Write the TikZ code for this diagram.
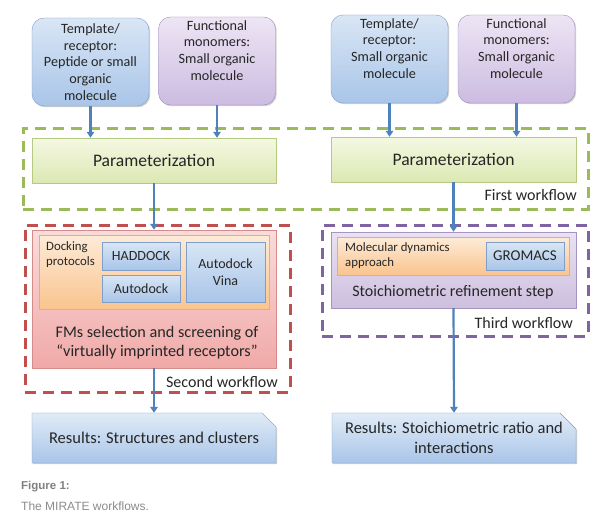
\documentclass[tikz,border=0pt]{standalone}
\usepackage{fontspec}
\setmainfont{Carlito}
\newfontfamily\capfont{Liberation Sans}
\usetikzlibrary{arrows.meta,shapes.misc,shadows}

\definecolor{tmplTop}{HTML}{D9E6F5}
\definecolor{tmplBot}{HTML}{A9C5E8}
\definecolor{tmplLine}{HTML}{7F9FC9}
\definecolor{monoTop}{HTML}{EDE5F4}
\definecolor{monoBot}{HTML}{CCBCE1}
\definecolor{monoLine}{HTML}{9E8CBC}
\definecolor{paramTop}{HTML}{F4F8E2}
\definecolor{paramBot}{HTML}{DCE8B3}
\definecolor{paramLine}{HTML}{B5C981}
\definecolor{screenTop}{HTML}{F9DCDB}
\definecolor{screenBot}{HTML}{F0A9A7}
\definecolor{screenLine}{HTML}{D48C8A}
\definecolor{dockTop}{HTML}{FDEBD8}
\definecolor{dockBot}{HTML}{FAC48E}
\definecolor{dockLine}{HTML}{F3AB63}
\definecolor{stoichTop}{HTML}{EAE2F1}
\definecolor{stoichBot}{HTML}{CDBFDF}
\definecolor{stoichLine}{HTML}{A794C1}
\definecolor{wfGreen}{HTML}{9BBB59}
\definecolor{wfRed}{HTML}{C0504D}
\definecolor{wfPurple}{HTML}{8064A2}
\definecolor{flowBlue}{HTML}{4F81BD}
\definecolor{inkText}{HTML}{262626}

\begin{document}
\begin{tikzpicture}[x=1pt,y=-1pt]

\tikzset{
  boxbase/.style={rectangle, inner sep=0pt, align=center, text=inkText,
    drop shadow={shadow xshift=1.2pt, shadow yshift=-1.2pt, opacity=.3, fill=black!60}},
  inputbox/.style={boxbase, rounded corners=12pt, minimum width=117pt, minimum height=88pt,
    font=\fontsize{14.2}{16.7}\selectfont},
  template/.style={inputbox, top color=tmplTop, bottom color=tmplBot, draw=tmplLine},
  monomer/.style={inputbox, top color=monoTop, bottom color=monoBot, draw=monoLine},
  param/.style={boxbase, top color=paramTop, bottom color=paramBot, draw=paramLine,
    minimum width=244pt, minimum height=45pt, font=\fontsize{17.6}{20}\selectfont},
  toolbox/.style={boxbase, top color=tmplTop, bottom color=tmplBot, draw=tmplLine,
    minimum width=78pt, font=\fontsize{14}{17}\selectfont},
  approach/.style={boxbase, top color=dockTop, bottom color=dockBot, draw=dockLine},
  result/.style={boxbase, chamfered rectangle, chamfered rectangle corners=north east,
    chamfered rectangle xsep=8pt, chamfered rectangle ysep=8pt,
    top color=tmplTop!80!white, bottom color=tmplBot, draw=tmplLine,
    minimum width=244pt, minimum height=50pt, font=\fontsize{16.5}{19.5}\selectfont},
  wfframe/.style={rectangle, dash pattern=on 11pt off 7pt, line width=3pt, inner sep=0pt},
  wflabel/.style={anchor=east, inner sep=0pt, text=inkText, font=\fontsize{16}{19}\selectfont},
  small/.style={anchor=north west, inner sep=0pt, align=left, text=inkText,
    font=\fontsize{12.8}{14.5}\selectfont},
  flow/.style={draw=flowBlue, line width=2.2pt, -{Triangle[width=7.5pt,length=6pt]}}
}

\useasboundingbox[fill=white] (0,0) rectangle (604,519);

% workflow frames
\node[wfframe, draw=wfGreen, minimum width=565pt, minimum height=81pt] (firstwf) at (305.5,168.5) {};
\node[wfframe, draw=wfRed, minimum width=265pt, minimum height=167pt] (secondwf) at (157.5,308.5) {};
\node[wfframe, draw=wfPurple, minimum width=266pt, minimum height=111pt] (thirdwf) at (455,280.5) {};

% inputs
\node[template] (tmplA) at (90.5,62) {Template/\\receptor:\\Peptide or small\\organic\\molecule};
\node[monomer] (monoA) at (217,61) {Functional\\monomers:\\Small organic\\molecule\\\strut};
\node[template] (tmplB) at (389.5,59) {Template/\\receptor:\\Small organic\\molecule\\\strut};
\node[monomer] (monoB) at (516.5,59) {Functional\\monomers:\\Small organic\\molecule\\\strut};

% first workflow
\node[param] (paramA) at (154,160.5) {Parameterization};
\node[param, minimum width=245pt] (paramB) at (453.5,159.5) {Parameterization};
\node[wflabel] (firstlbl) at (577,195) {First workflow};

% second workflow
\node[boxbase, top color=screenTop, bottom color=screenBot, draw=screenLine,
  minimum width=244pt, minimum height=138pt] (screen) at (154,299) {};
\node[approach, minimum width=230pt, minimum height=74pt] (dock) at (154,272) {};
\node[small] (docklbl) at (46,241.5) {Docking\\protocols};
\node[toolbox, minimum height=28pt] (haddock) at (141,256) {HADDOCK};
\node[toolbox, minimum height=27pt] (autodock) at (141,288.5) {Autodock};
\node[toolbox, minimum width=79pt, minimum height=60pt] (vina) at (225.5,272) {Autodock\\Vina};
\node[inner sep=0pt, align=center, text=inkText, font=\fontsize{16.2}{19.5}\selectfont]
  (screenlbl) at (157,342.5) {FMs selection and screening of\\“virtually imprinted receptors”};
\node[wflabel] (secondlbl) at (278,382) {Second workflow};

% third workflow
\node[boxbase, top color=stoichTop, bottom color=stoichBot, draw=stoichLine,
  minimum width=245pt, minimum height=76pt] (stoich) at (453.5,270) {};
\node[approach, minimum width=232pt, minimum height=38pt] (mdyn) at (453,256) {};
\node[small] (mdynlbl) at (345,242.5) {Molecular dynamics\\approach};
\node[toolbox, minimum height=28pt, font=\fontsize{15}{17}\selectfont] (gromacs) at (525,256) {GROMACS};
\node[inner sep=0pt, text=inkText, font=\fontsize{16}{19}\selectfont]
  (stoichlbl) at (453,292) {Stoichiometric refinement step};
\node[wflabel] (thirdlbl) at (573,323) {Third workflow};

% results
\node[result] (resA) at (154,438) {Results: Structures and clusters};
\node[result] (resB) at (454,438) {Results: Stoichiometric ratio and\\interactions};

% arrows
\draw[flow] (tmplA.south) -- (tmplA.south |- paramA.north);
\draw[flow] (monoA.south) -- (monoA.south |- paramA.north);
\draw[flow] (tmplB.south) -- (tmplB.south |- paramB.north);
\draw[flow] (monoB.south) -- (monoB.south |- paramB.north);
\draw[flow] (paramA.south) -- (screen.north);
\draw[flow] (screen.south) -- (resA.north);
\draw[flow] (paramB.south) -- (stoich.north);
\draw[flow] (stoich.south) -- (resB.north);

% caption
\node[anchor=west, inner sep=0pt, text=black!50, font=\capfont\bfseries\fontsize{11.5}{14}\selectfont]
  (fignum) at (21,487) {Figure 1:};
\node[anchor=west, inner sep=0pt, text=black!45, font=\capfont\fontsize{12}{14}\selectfont]
  (figtext) at (21,506) {The MIRATE workflows.};

\end{tikzpicture}
\end{document}
